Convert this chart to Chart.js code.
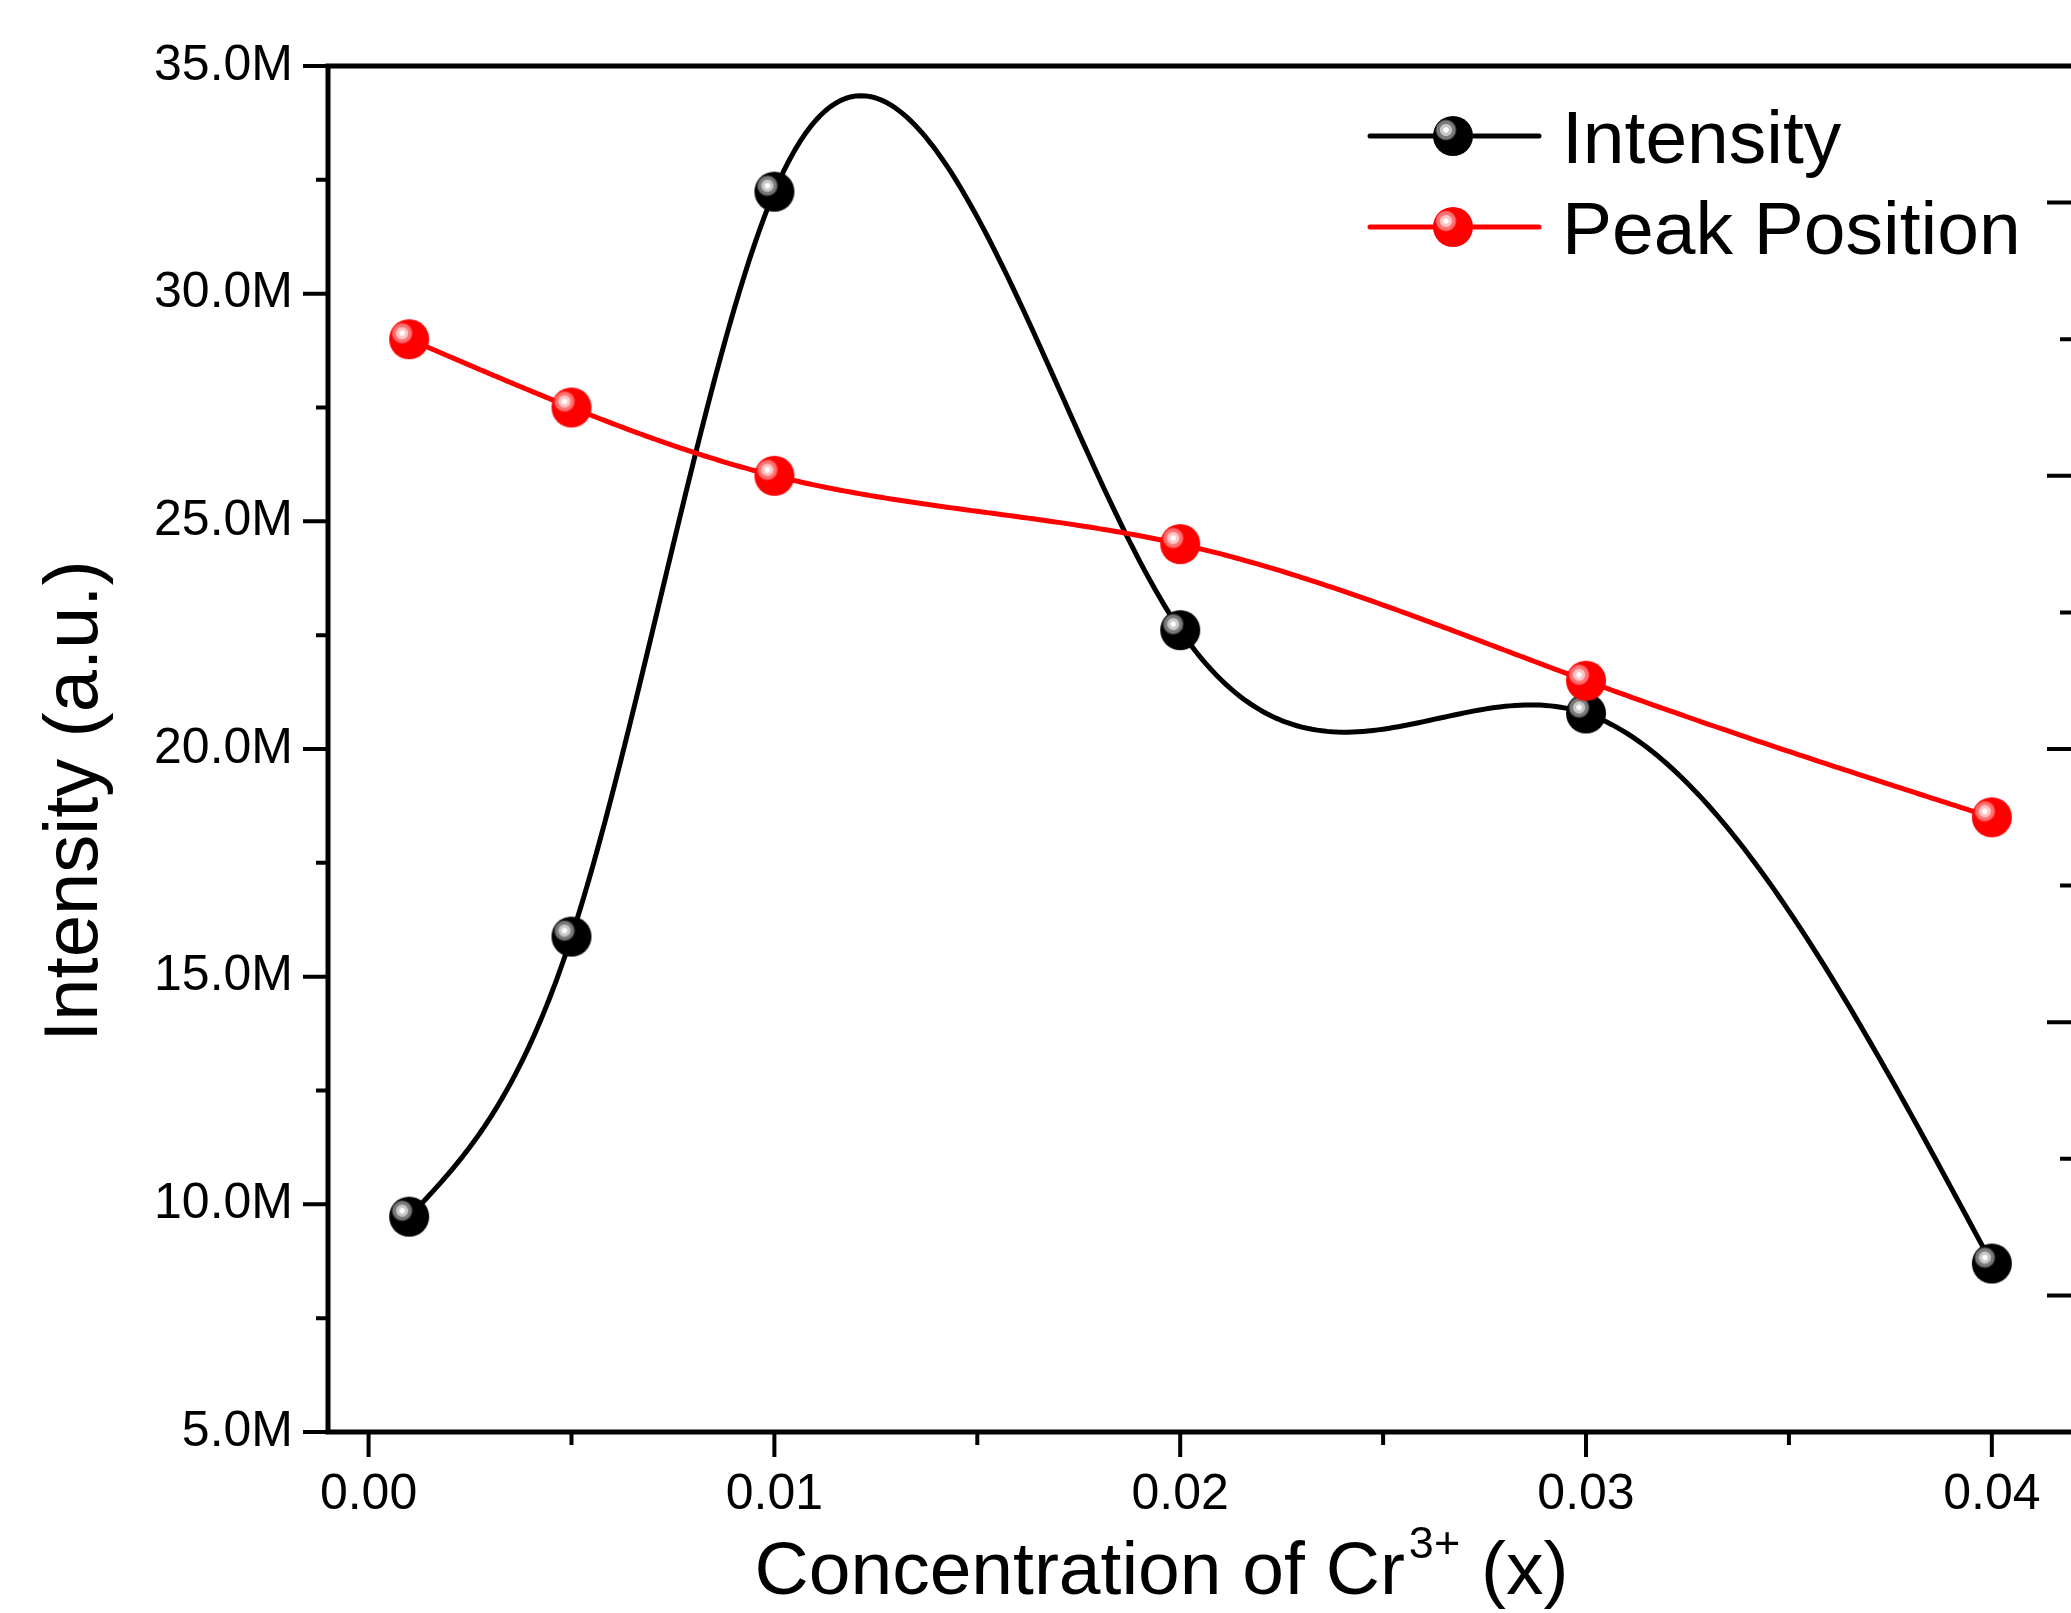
<!DOCTYPE html>
<html>
<head>
<meta charset="utf-8">
<script src="https://cdn.jsdelivr.net/npm/chart.js@4.4.1/dist/chart.umd.min.js"></script>
<style>
  html, body { margin: 0; padding: 0; background: #fff; overflow: hidden; }
  #wrap { width: 2071px; height: 1613px; overflow: hidden; position: relative; background: #fff; }
  canvas { display: block; }
</style>
</head>
<body>
<div id="wrap"><canvas id="crChart" width="2200" height="1613"></canvas></div>
<script>
// data
const concentration = [0.001, 0.005, 0.01, 0.02, 0.03, 0.04];
const intensity = [9.73e6, 15.88e6, 32.24e6, 22.61e6, 20.78e6, 8.70e6];
const peakPosition = [701.5, 701.25, 701.0, 700.75, 700.25, 699.75];

// axis ticks
const xTicks = [0, 0.01, 0.02, 0.03, 0.04];
const yTicks = [5e6, 10e6, 15e6, 20e6, 25e6, 30e6, 35e6];
const y2Ticks = [698, 699, 700, 701, 702];

const FONT = "'Liberation Sans', Arial, sans-serif";
Chart.defaults.font.family = FONT;
Chart.defaults.color = '#000';

// shaded sphere used as point marker
function makeBall(base, light, mid) {
  const c = document.createElement('canvas');
  c.width = 42; c.height = 42;
  const g = c.getContext('2d');
  g.beginPath();
  g.arc(21, 21, 20, 0, Math.PI * 2);
  g.fillStyle = base;
  g.fill();
  g.save();
  g.clip();
  const hx = 14, hy = 15;
  const grad = g.createRadialGradient(hx, hy, 0, hx, hy, 11);
  grad.addColorStop(0, '#ffffff');
  grad.addColorStop(0.2, '#ffffff');
  grad.addColorStop(0.3, light);
  grad.addColorStop(0.5, light);
  grad.addColorStop(0.6, mid);
  grad.addColorStop(0.8, mid);
  grad.addColorStop(1, base);
  g.fillStyle = grad;
  g.beginPath();
  g.arc(hx, hy, 11, 0, Math.PI * 2);
  g.fill();
  g.restore();
  return c;
}
const blackBall = makeBall('#000000', '#c8c8c8', '#7a7a7a');
const redBall = makeBall('#ff0000', '#ffc4c4', '#ff7272');

// natural cubic spline (second derivatives)
function splineM(xs, ys) {
  const n = xs.length;
  const m = new Array(n).fill(0);
  if (n < 3) return m;
  const a = [], b = [], c = [], d = [];
  for (let i = 1; i < n - 1; i++) {
    const h0 = xs[i] - xs[i - 1], h1 = xs[i + 1] - xs[i];
    a.push(h0); b.push(2 * (h0 + h1)); c.push(h1);
    d.push(6 * ((ys[i + 1] - ys[i]) / h1 - (ys[i] - ys[i - 1]) / h0));
  }
  const k = b.length;
  for (let i = 1; i < k; i++) {
    const w = a[i] / b[i - 1];
    b[i] -= w * c[i - 1];
    d[i] -= w * d[i - 1];
  }
  const s = new Array(k);
  s[k - 1] = d[k - 1] / b[k - 1];
  for (let i = k - 2; i >= 0; i--) s[i] = (d[i] - c[i] * s[i + 1]) / b[i];
  for (let i = 0; i < k; i++) m[i + 1] = s[i];
  return m;
}

const splinePlugin = {
  id: 'splineLines',
  beforeDatasetDraw(chart, args) {
    const ds = chart.data.datasets[args.index];
    const meta = args.meta;
    const xs = ds.data.map(p => p.x);
    const ys = ds.data.map(p => p.y);
    const m = splineM(xs, ys);
    const xScale = chart.scales[meta.xAxisID];
    const yScale = chart.scales[meta.yAxisID];
    const ctx = chart.ctx;
    ctx.save();
    ctx.beginPath();
    for (let i = 0; i < xs.length - 1; i++) {
      const x0 = xs[i], x1 = xs[i + 1], h = x1 - x0;
      const steps = 80;
      for (let j = 0; j <= steps; j++) {
        const x = x0 + h * j / steps;
        const y = m[i] * Math.pow(x1 - x, 3) / (6 * h) + m[i + 1] * Math.pow(x - x0, 3) / (6 * h)
          + (ys[i] / h - m[i] * h / 6) * (x1 - x) + (ys[i + 1] / h - m[i + 1] * h / 6) * (x - x0);
        const px = xScale.getPixelForValue(x), py = yScale.getPixelForValue(y);
        if (i === 0 && j === 0) ctx.moveTo(px, py); else ctx.lineTo(px, py);
      }
    }
    ctx.strokeStyle = ds.borderColor;
    ctx.lineWidth = ds.borderWidth;
    ctx.lineJoin = 'round';
    ctx.lineCap = 'round';
    ctx.stroke();
    ctx.restore();
  }
};

// frame + major/minor ticks
const framePlugin = {
  id: 'frame',
  beforeDatasetsDraw(chart) {
    const {ctx, chartArea: {left, right, top, bottom}, scales} = chart;
    ctx.save();
    ctx.strokeStyle = '#000';
    ctx.lineCap = 'butt';
    ctx.lineWidth = 4;
    ctx.beginPath();
    // left axis ticks
    yTicks.forEach((v, i) => {
      const py = scales.y.getPixelForValue(v);
      ctx.moveTo(left - 25, py); ctx.lineTo(left, py);
      if (i < yTicks.length - 1) {
        const pm = scales.y.getPixelForValue((v + yTicks[i + 1]) / 2);
        ctx.moveTo(left - 12, pm); ctx.lineTo(left, pm);
      }
    });
    // bottom axis ticks
    xTicks.forEach((v, i) => {
      const px = scales.x.getPixelForValue(v);
      ctx.moveTo(px, bottom); ctx.lineTo(px, bottom + 25);
      if (i < xTicks.length - 1) {
        const pm = scales.x.getPixelForValue((v + xTicks[i + 1]) / 2);
        ctx.moveTo(pm, bottom); ctx.lineTo(pm, bottom + 13);
      }
    });
    // right axis ticks (pointing in)
    y2Ticks.forEach((v, i) => {
      const py = scales.y2.getPixelForValue(v);
      ctx.moveTo(right - 26, py); ctx.lineTo(right, py);
      if (i < y2Ticks.length - 1) {
        const pm = scales.y2.getPixelForValue(v + 0.5);
        ctx.moveTo(right - 13, pm); ctx.lineTo(right, pm);
      }
    });
    ctx.stroke();
    ctx.lineWidth = 5;
    ctx.lineCap = 'square';
    ctx.beginPath();
    ctx.moveTo(left, top); ctx.lineTo(left, bottom);
    ctx.moveTo(left, bottom); ctx.lineTo(right, bottom);
    ctx.moveTo(left, top); ctx.lineTo(right, top);
    ctx.stroke();
    ctx.restore();
  }
};

// legend with line + ball
const legendPlugin = {
  id: 'lineLegend',
  afterDatasetsDraw(chart) {
    const {ctx, chartArea: {right, top}} = chart;
    const balls = [blackBall, redBall];
    ctx.save();
    chart.data.datasets.forEach((ds, i) => {
      const y = top + 70 + i * 91;
      ctx.strokeStyle = ds.borderColor;
      ctx.lineWidth = 5;
      ctx.lineCap = 'round';
      ctx.beginPath();
      ctx.moveTo(right - 703, y); ctx.lineTo(right - 534, y);
      ctx.stroke();
      const img = balls[i];
      ctx.drawImage(img, right - 620 - img.width / 2, y - img.height / 2);
      ctx.fillStyle = '#000';
      ctx.font = '75px ' + FONT;
      ctx.textBaseline = 'alphabetic';
      ctx.textAlign = 'left';
      ctx.fillText(ds.label, right - 511, y + 27);
    });
    ctx.restore();
  }
};

// axis titles (x title has a superscript)
const titlePlugin = {
  id: 'axisTitles',
  afterDraw(chart) {
    const {ctx, chartArea: {left, right, top, bottom}} = chart;
    ctx.save();
    ctx.fillStyle = '#000';
    ctx.textBaseline = 'alphabetic';
    ctx.textAlign = 'left';
    const big = '75px ' + FONT, small = '45px ' + FONT;
    const p1 = 'Concentration of Cr', p2 = '3+', p3 = ' (x)';
    ctx.font = big;
    const w1 = ctx.measureText(p1).width, w3 = ctx.measureText(p3).width;
    ctx.font = small;
    const w2 = ctx.measureText(p2).width;
    const total = w1 + 4 + w2 + w3;
    let x = (left + right) / 2 - 39 - total / 2;
    const base = bottom + 162;
    ctx.font = big;
    ctx.fillText(p1, x, base);
    x += w1 + 4;
    ctx.font = small;
    ctx.fillText(p2, x, base - 36);
    x += w2;
    ctx.font = big;
    ctx.fillText(p3, x, base);

    ctx.translate(76, (top + bottom) / 2 + 52);
    ctx.rotate(-Math.PI / 2);
    ctx.font = '76px ' + FONT;
    ctx.textAlign = 'center';
    ctx.textBaseline = 'middle';
    ctx.fillText('Intensity (a.u.)', 0, 0);
    ctx.restore();
  }
};

const ctx = document.getElementById('crChart').getContext('2d');
const crChart = new Chart(ctx, {
  type: 'scatter',
  data: {
    datasets: [
      {
        label: 'Intensity',
        data: concentration.map((x, i) => ({x: x, y: intensity[i]})),
        yAxisID: 'y',
        borderColor: '#000000',
        backgroundColor: '#000000',
        borderWidth: 5,
        pointStyle: blackBall,
        pointRadius: 20,
        showLine: false,
        order: 2
      },
      {
        label: 'Peak Position',
        data: concentration.map((x, i) => ({x: x, y: peakPosition[i]})),
        yAxisID: 'y2',
        borderColor: '#ff0000',
        backgroundColor: '#ff0000',
        borderWidth: 5,
        pointStyle: redBall,
        pointRadius: 20,
        showLine: false,
        order: 1
      }
    ]
  },
  options: {
    responsive: false,
    animation: false,
    devicePixelRatio: 1,
    layout: { padding: { top: 66, right: 127, left: 0, bottom: 0 } },
    plugins: {
      legend: { display: false },
      tooltip: { enabled: false },
      title: { display: false }
    },
    scales: {
      x: {
        type: 'linear',
        position: 'bottom',
        min: -0.001,
        max: 0.042,
        grid: { display: false, drawTicks: true, tickLength: 25 },
        border: { display: false },
        afterBuildTicks: (scale) => { scale.ticks = xTicks.map(v => ({value: v})); },
        afterFit: (scale) => { scale.height = 181; },
        ticks: {
          autoSkip: false,
          maxRotation: 0,
          padding: 8,
          font: { size: 50 },
          color: '#000',
          callback: (v) => Number(v).toFixed(2)
        }
      },
      y: {
        type: 'linear',
        position: 'left',
        min: 5e6,
        max: 35e6,
        grid: { display: false, drawTicks: true, tickLength: 26 },
        border: { display: false },
        afterBuildTicks: (scale) => { scale.ticks = yTicks.map(v => ({value: v})); },
        afterFit: (scale) => { scale.width = 328; },
        ticks: {
          autoSkip: false,
          padding: 9,
          font: { size: 50 },
          color: '#000',
          callback: (v) => (v / 1e6).toFixed(1) + 'M'
        }
      },
      y2: {
        type: 'linear',
        position: 'right',
        min: 697.5,
        max: 702.5,
        display: false
      }
    }
  },
  plugins: [framePlugin, splinePlugin, legendPlugin, titlePlugin]
});
</script>
</body>
</html>
